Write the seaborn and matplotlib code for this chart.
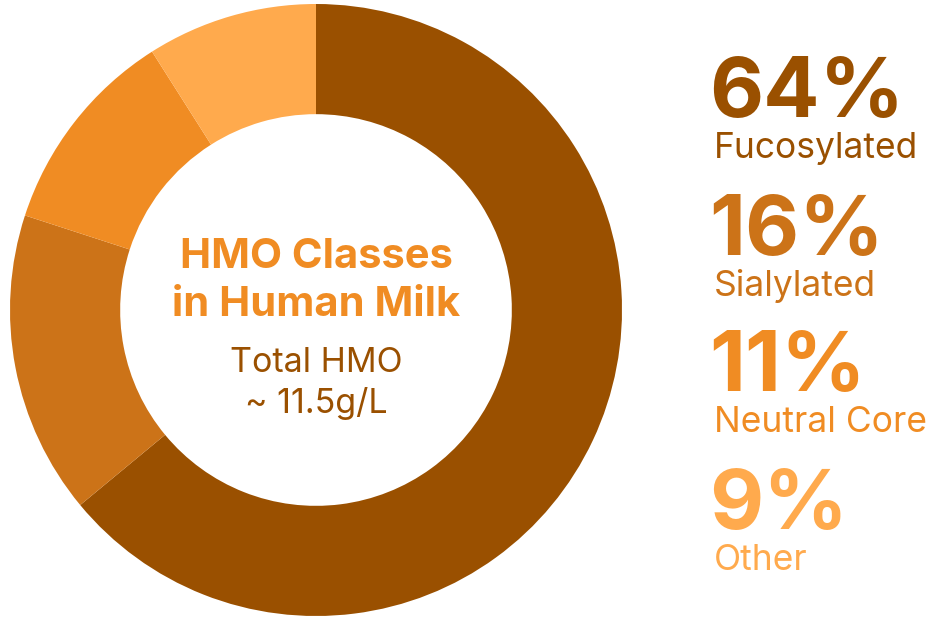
import matplotlib
matplotlib.use("Agg")
import matplotlib.pyplot as plt
import seaborn as sns

categories = ["Fucosylated", "Sialylated", "Neutral Core", "Other"]
values = [64, 16, 11, 9]
pct_labels = ["64%", "16%", "11%", "9%"]
colors = ["#9A5000", "#CC7318", "#F08C23", "#FFAA4D"]

sns.set_theme(style="white")
plt.rcParams['font.family'] = ['Inter', 'DejaVu Sans']

W, H = 937, 619
fig = plt.figure(figsize=(W / 100, H / 100), dpi=100)
fig.patch.set_facecolor("white")

cx, cy, r = 316, 310, 306
ax = fig.add_axes([(cx - r) / W, 1 - (cy + r) / H, 2 * r / W, 2 * r / H])
ax.pie(values, colors=colors, startangle=90, counterclock=False,
       wedgeprops=dict(width=0.36, edgecolor="none"), radius=1.0)
ax.set_xlim(-1, 1)
ax.set_ylim(-1, 1)
ax.set_aspect("equal")
ax.axis("off")

def ftext(x, y, s, **kw):
    fig.text(x / W, 1 - y / H, s, va="baseline", **kw)

ftext(cx, 268, "HMO Classes", ha="center", fontsize=30, fontweight="bold", color="#F08C23")
ftext(cx, 316, "in Human Milk", ha="center", fontsize=30, fontweight="bold", color="#F08C23")
ftext(cx, 372, "Total HMO", ha="center", fontsize=24.5, color="#9A5000")
ftext(cx, 413, "~ 11.5g/L", ha="center", fontsize=24.5, color="#9A5000")

pct_base = [117, 255, 391, 529]
lab_base = [158, 296, 432, 570]
for p, lab, col, yb, yl in zip(pct_labels, categories, colors, pct_base, lab_base):
    ftext(709, yb, p, ha="left", fontsize=60, fontweight="bold", color=col)
    ftext(714, yl, lab, ha="left", fontsize=25.5, color=col)

fig.savefig("out.png", dpi=100, facecolor="white")
